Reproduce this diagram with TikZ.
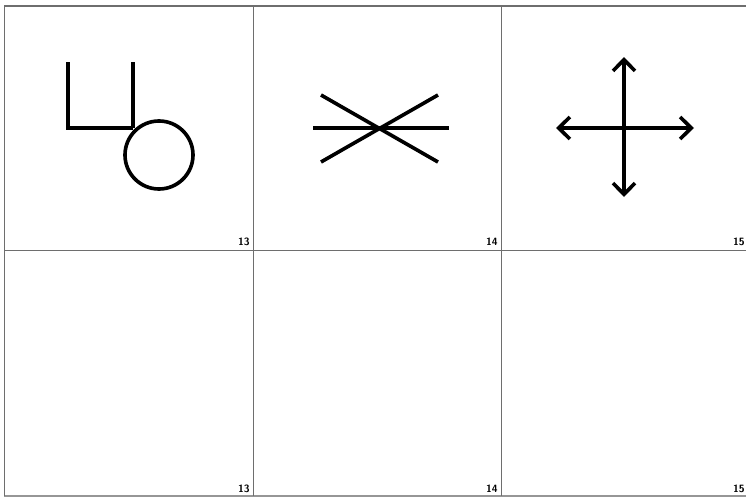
\documentclass[tikz,border=0pt]{standalone}
\usetikzlibrary{arrows.meta}
\definecolor{gridgray}{RGB}{110,110,110}
\definecolor{edgegray}{RGB}{150,150,150}

\begin{document}
\begin{tikzpicture}[x=0.03cm, y=-0.03cm,
    gridline/.style={draw=gridgray, line width=0.8pt},
    symline/.style={draw=black, line width=3.1pt},
    barb/.style={line width=3.1pt, {Straight Barb[length=3.4mm, width=6.6mm]}-{Straight Barb[length=3.4mm, width=6.6mm]}},
    cardnum/.style={anchor=base east, inner sep=0pt, font=\fontsize{9}{9}\selectfont\sffamily\bfseries}
  ]
  \useasboundingbox (0,0) rectangle (746,501);
  \fill[white] (0,0) rectangle (746,501);

  % grid of cards
  \draw[gridline, line width=1.2pt] (4,6) -- (760,6);
  \draw[gridline] (4,250) -- (760,250);
  \draw[gridline, draw=edgegray, line width=2pt] (4,496) -- (760,496);
  \draw[gridline] (4,6) -- (4,496);
  \draw[gridline] (253,6) -- (253,496);
  \draw[gridline] (501,6) -- (501,496);

  % card numbers
  \node[cardnum] (num13top) at (250,245) {13};
  \node[cardnum] (num14top) at (498,245) {14};
  \node[cardnum] (num15top) at (745,245) {15};
  \node[cardnum] (num13bot) at (250,492) {13};
  \node[cardnum] (num14bot) at (498,492) {14};
  \node[cardnum] (num15bot) at (745,492) {15};

  % Card 13
  \draw[symline] (68,62) -- (68,128) -- (133,128);
  \draw[symline] (133,62) -- (133,128);
  \draw[symline] (159,155) circle (34);

  % Card 14
  \draw[symline] (313,128) -- (449,128);
  \draw[symline] (321,95) -- (438,162);
  \draw[symline] (321,162) -- (438,95);

  % Card 15
  \draw[barb] (556,128) -- (694,128);
  \draw[barb] (624,57) -- (624,197);
\end{tikzpicture}
\end{document}
